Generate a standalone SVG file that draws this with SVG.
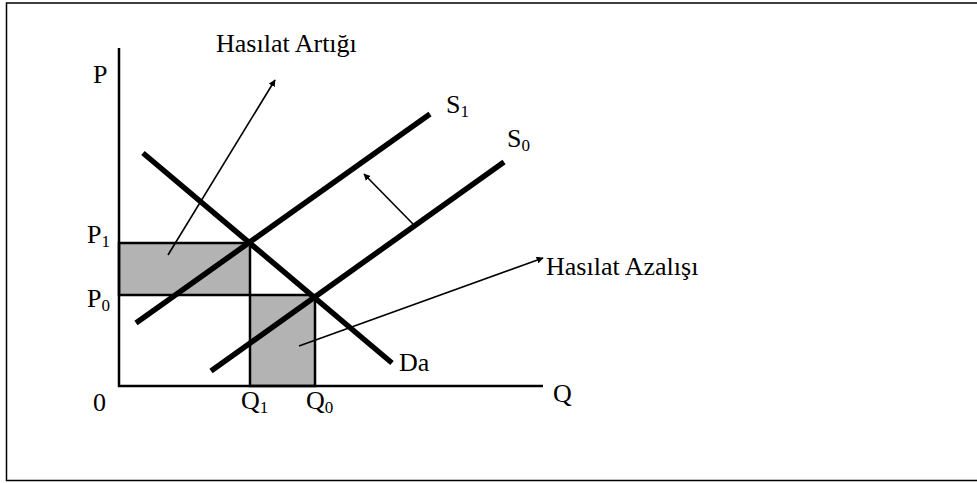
<svg xmlns="http://www.w3.org/2000/svg" width="977" height="483" viewBox="0 0 977 483">
<defs>
<style>
text{font-family:"Liberation Serif","Times New Roman",serif;font-size:26px;fill:#000}
.sub{font-size:17px}
.thick{stroke:#000;stroke-width:5.5;fill:none}
.axis{stroke:#000;stroke-width:2.5;fill:none}
.thin{stroke:#000;stroke-width:1.6;fill:none}
.area{fill:#b3b3b3;stroke:#000;stroke-width:2.5}
</style>
<marker id="ah" viewBox="0 0 10 10" refX="9" refY="5" markerWidth="7" markerHeight="7" markerUnits="userSpaceOnUse" orient="auto">
<path d="M0,0 L10,5 L0,10 z" fill="#000"/>
</marker>
</defs>
<rect x="0" y="0" width="977" height="483" fill="#fff"/>
<rect id="frame" x="6.5" y="3" width="975" height="477.5" fill="none" stroke="#000" stroke-width="1.5"/>
<g id="areas">
<rect id="surplus" class="area" x="119" y="243" width="131" height="52"/>
<rect id="loss" class="area" x="250" y="295" width="65" height="91"/>
</g>
<g id="axes">
<path class="axis" d="M119,48 V386 H543"/>
</g>
<g id="curves">
<line id="Da" class="thick" x1="143" y1="153" x2="392" y2="363"/>
<line id="S1" class="thick" x1="136" y1="323" x2="430" y2="114"/>
<line id="S0" class="thick" x1="211" y1="371" x2="504" y2="162"/>
</g>
<g id="connectors">
<line class="thin" x1="168" y1="255" x2="275" y2="80" marker-end="url(#ah)"/>
<line class="thin" x1="413" y1="224" x2="364" y2="174" marker-end="url(#ah)"/>
<line class="thin" x1="299" y1="346" x2="543" y2="258" marker-end="url(#ah)"/>
</g>
<g id="labels">
<text x="216" y="52">Hasılat Artığı</text>
<text x="546" y="275">Hasılat Azalışı</text>
<text x="93" y="83">P</text>
<text x="87" y="243">P<tspan class="sub" dy="4">1</tspan></text>
<text x="87" y="307">P<tspan class="sub" dy="4">0</tspan></text>
<text x="93" y="411">0</text>
<text x="241" y="409">Q<tspan class="sub" dy="4">1</tspan></text>
<text x="306" y="409">Q<tspan class="sub" dy="4">0</tspan></text>
<text x="553" y="402">Q</text>
<text x="399" y="371">Da</text>
<text x="446" y="113">S<tspan class="sub" dy="4">1</tspan></text>
<text x="507" y="147">S<tspan class="sub" dy="4">0</tspan></text>
</g>
</svg>
